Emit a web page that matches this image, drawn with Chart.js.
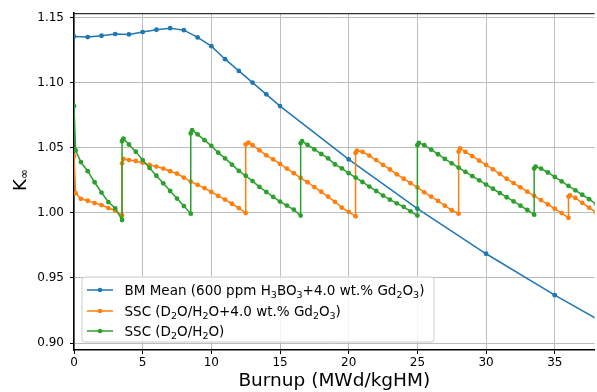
<!DOCTYPE html>
<html><head><meta charset="utf-8">
<script src="https://cdn.jsdelivr.net/npm/chart.js@4/dist/chart.umd.min.js"></script>
<style>html,body{margin:0;padding:0;background:#fff;} #wrap{width:597px;height:392px;}</style>
</head><body>
<div id="wrap"><canvas id="c" width="597" height="392"></canvas></div>
<script>
// ---- data ----
const blueBurnup = [0,1,2,3,4,5,6,7,8,9,10,11,12,13,14,15,20,25,30,35,40];
const blueK = [1.1355,1.135,1.136,1.1373,1.137,1.1388,1.1406,1.1418,1.1403,1.1347,1.128,1.118,1.109,1.100,1.091,1.082,1.041,1.0032,0.9686,0.9368,0.907];

const orangeBurnup = [
  0,0.12,0.5,1.0,1.5,2.0,2.5,3.0,3.5,
  3.5,3.6,4.0,4.5,5.0,5.5,6.0,6.5,7.0,7.5,8.0,8.5,9.0,9.5,10.0,10.5,11.0,11.5,12.0,12.5,
  12.5,12.7,13.0,13.5,14.0,14.5,15.0,15.5,16.0,16.5,17.0,17.5,18.0,18.5,19.0,19.5,20.0,20.5,
  20.5,20.6,21.0,21.5,22.0,22.5,23.0,23.5,24.0,24.5,25.0,25.5,26.0,26.5,27.0,27.5,28.0,
  28.0,28.1,28.5,29.0,29.5,30.0,30.5,31.0,31.5,32.0,32.5,33.0,33.5,34.0,34.5,35.0,35.5,36.0,
  36.0,36.1,36.5,37.0,37.5,38.0];
const orangeK = [
  1.0437,1.0151,1.0108,1.0093,1.0075,1.006,1.0037,1.0017,0.998,
  1.038,1.0414,1.0405,1.0398,1.0385,1.0368,1.0355,1.034,1.032,1.0302,1.0271,1.024,1.0215,1.019,1.016,1.013,1.0102,1.007,1.0037,0.9998,
  1.0525,1.054,1.052,1.048,1.0442,1.041,1.0376,1.034,1.0305,1.0268,1.0235,1.0198,1.0162,1.0125,1.0085,1.004,1.0008,0.9973,
  1.046,1.0477,1.0469,1.044,1.0405,1.0368,1.0333,1.0296,1.0262,1.0228,1.0195,1.0158,1.0125,1.0092,1.0055,1.002,0.9994,
  1.047,1.0495,1.0468,1.0435,1.0401,1.0368,1.0334,1.03,1.0262,1.0229,1.0196,1.0163,1.0131,1.0098,1.0065,1.0032,0.9998,0.9962,
  1.0125,1.0134,1.0115,1.0077,1.004,1.0003];

const greenBurnup = [
  0,0.12,0.5,1.0,1.5,2.0,2.5,3.0,3.5,
  3.5,3.6,4.0,4.5,5.0,5.5,6.0,6.5,7.0,7.5,8.0,8.5,
  8.5,8.6,9.0,9.5,10.0,10.5,11.0,11.5,12.0,12.5,13.0,13.5,14.0,14.5,15.0,15.5,16.0,16.5,
  16.5,16.6,17.0,17.5,18.0,18.5,19.0,19.5,20.0,20.5,21.0,21.5,22.0,22.5,23.0,23.5,24.0,24.5,25.0,
  25.0,25.1,25.5,26.0,26.5,27.0,27.5,28.0,28.5,29.0,29.5,30.0,30.5,31.0,31.5,32.0,32.5,33.0,33.5,
  33.5,33.6,34.0,34.5,35.0,35.5,36.0,36.5,37.0,37.5,38.0];
const greenK = [
  1.082,1.048,1.039,1.032,1.0235,1.0156,1.0083,1.0035,0.9945,
  1.055,1.057,1.0525,1.047,1.0405,1.0345,1.0285,1.0227,1.0168,1.011,1.0052,0.9994,
  1.061,1.0635,1.0602,1.0558,1.0514,1.0462,1.0418,1.037,1.0322,1.0285,1.0244,1.0199,1.016,1.0122,1.0087,1.0056,1.0025,0.9979,
  1.0535,1.0551,1.0522,1.0487,1.0452,1.0418,1.0372,1.0341,1.0305,1.0271,1.0237,1.0202,1.0168,1.0133,1.0101,1.0073,1.0046,1.0012,0.9979,
  1.052,1.0538,1.052,1.0485,1.045,1.0414,1.038,1.0347,1.0314,1.0282,1.025,1.0217,1.0185,1.0152,1.012,1.0088,1.0055,1.0022,0.9986,
  1.034,1.0355,1.034,1.031,1.0276,1.0241,1.0207,1.0173,1.0139,1.0105,1.0068];

const xTicks = [0,5,10,15,20,25,30,35];
const yTicks = [0.90,0.95,1.00,1.05,1.10,1.15];
const seriesLabels = [
  'BM Mean (600 ppm H_{3}BO_{3}+4.0 wt.% Gd_{2}O_{3})',
  'SSC (D_{2}O/H_{2}O+4.0 wt.% Gd_{2}O_{3})',
  'SSC (D_{2}O/H_{2}O)'
];
const seriesColors = ['#1f77b4','#ff7f0e','#2ca02c'];
const xTitle = 'Burnup (MWd/kgHM)';
const yTitleMain = 'K';
const yTitleSub = '\u221E';

// ---- build ----
const toPts = (xs, ys) => xs.map((x, i) => ({x: x, y: ys[i]}));
const FONT = 'DejaVu Sans';

function parseSegs(s) {
  const out = []; const re = /_\{(.*?)\}/g; let last = 0, m;
  while ((m = re.exec(s)) !== null) {
    if (m.index > last) out.push({t: s.slice(last, m.index), sub: false});
    out.push({t: m[1], sub: true}); last = re.lastIndex;
  }
  if (last < s.length) out.push({t: s.slice(last), sub: false});
  return out;
}

const extrasPlugin = {
  id: 'extras',
  afterDraw(chart) {
    const ctx = chart.ctx, ca = chart.chartArea;
    ctx.save();
    // top spine
    ctx.strokeStyle = '#333'; ctx.lineWidth = 1.3;
    ctx.beginPath(); ctx.moveTo(ca.left, ca.top + 0.5); ctx.lineTo(ca.right, ca.top + 0.5); ctx.stroke();

    // legend
    const bx = 82, by = 277, bw = 352, bh = 65, r = 3;
    ctx.fillStyle = 'rgba(255,255,255,0.85)'; ctx.strokeStyle = '#cccccc'; ctx.lineWidth = 1;
    ctx.beginPath();
    ctx.moveTo(bx + r, by); ctx.lineTo(bx + bw - r, by); ctx.quadraticCurveTo(bx + bw, by, bx + bw, by + r);
    ctx.lineTo(bx + bw, by + bh - r); ctx.quadraticCurveTo(bx + bw, by + bh, bx + bw - r, by + bh);
    ctx.lineTo(bx + r, by + bh); ctx.quadraticCurveTo(bx, by + bh, bx, by + bh - r);
    ctx.lineTo(bx, by + r); ctx.quadraticCurveTo(bx, by, bx + r, by);
    ctx.closePath(); ctx.fill(); ctx.stroke();
    const rows = [290, 311, 331];
    seriesLabels.forEach((lab, i) => {
      const y = rows[i];
      ctx.strokeStyle = seriesColors[i]; ctx.lineWidth = 1.5;
      ctx.beginPath(); ctx.moveTo(87, y); ctx.lineTo(113, y); ctx.stroke();
      ctx.fillStyle = seriesColors[i];
      ctx.beginPath(); ctx.arc(100, y, 2.3, 0, Math.PI * 2); ctx.fill();
      let x = 124.5;
      ctx.fillStyle = '#000'; ctx.textBaseline = 'alphabetic'; ctx.textAlign = 'left';
      parseSegs(lab).forEach(sg => {
        ctx.font = (sg.sub ? '9.5px ' : '13.5px ') + FONT;
        ctx.fillText(sg.t, x, y + 5 + (sg.sub ? 2.8 : 0));
        x += ctx.measureText(sg.t).width;
      });
    });

    // y title K_inf rotated
    ctx.translate(0, 180);
    ctx.rotate(-Math.PI / 2);
    ctx.fillStyle = '#000'; ctx.textAlign = 'left'; ctx.textBaseline = 'alphabetic';
    ctx.font = '18px ' + FONT;
    const wK = ctx.measureText(yTitleMain).width;
    ctx.font = '12px ' + FONT;
    const wS = ctx.measureText(yTitleSub).width;
    const start = -(wK + wS) / 2;
    ctx.font = '18px ' + FONT;
    ctx.fillText(yTitleMain, start, 25.5);
    ctx.font = '12px ' + FONT;
    ctx.fillText(yTitleSub, start + wK, 27.5);
    ctx.restore();
  }
};

new Chart(document.getElementById('c'), {
  type: 'line',
  data: {
    datasets: [
      {label: seriesLabels[0], data: toPts(blueBurnup, blueK), borderColor: seriesColors[0], backgroundColor: seriesColors[0], order: 2},
      {label: seriesLabels[1], data: toPts(orangeBurnup, orangeK), borderColor: seriesColors[1], backgroundColor: seriesColors[1], order: 1},
      {label: seriesLabels[2], data: toPts(greenBurnup, greenK), borderColor: seriesColors[2], backgroundColor: seriesColors[2], order: 0}
    ]
  },
  options: {
    responsive: false,
    devicePixelRatio: 1,
    animation: false,
    layout: {padding: {top: 11, right: 0, bottom: 0, left: 0}},
    elements: {
      line: {borderWidth: 1.5, tension: 0},
      point: {radius: 2.4, hoverRadius: 2.4, borderWidth: 0, pointStyle: 'circle'}
    },
    plugins: {legend: {display: false}, tooltip: {enabled: false}},
    scales: {
      x: {
        type: 'linear', min: 0, max: 37.9,
        afterBuildTicks: (s) => { s.ticks = xTicks.map(v => ({value: v})); },
        afterFit: (s) => { s.height = 42; },
        grid: {color: '#bdbdbd', lineWidth: 1, tickLength: 4, tickColor: '#000', tickWidth: 1},
        border: {color: '#000', width: 1.5},
        ticks: {color: '#000', font: {family: FONT, size: 12}, padding: 2, maxRotation: 0,
          callback: (v) => String(v)},
        title: {display: true, text: xTitle, color: '#000', font: {family: FONT, size: 18.5}, padding: {top: 0, bottom: 0}}
      },
      y: {
        type: 'linear', min: 0.8947, max: 1.1533,
        afterBuildTicks: (s) => { s.ticks = yTicks.map(v => ({value: v})); },
        afterFit: (s) => { s.width = 74; },
        grid: {color: '#bdbdbd', lineWidth: 1, tickLength: 4, tickColor: '#000', tickWidth: 1},
        border: {color: '#000', width: 1.5},
        ticks: {color: '#000', font: {family: FONT, size: 12}, padding: 6,
          callback: (v) => Number(v).toFixed(2)}
      }
    }
  },
  plugins: [extrasPlugin]
});
</script>
</body></html>
